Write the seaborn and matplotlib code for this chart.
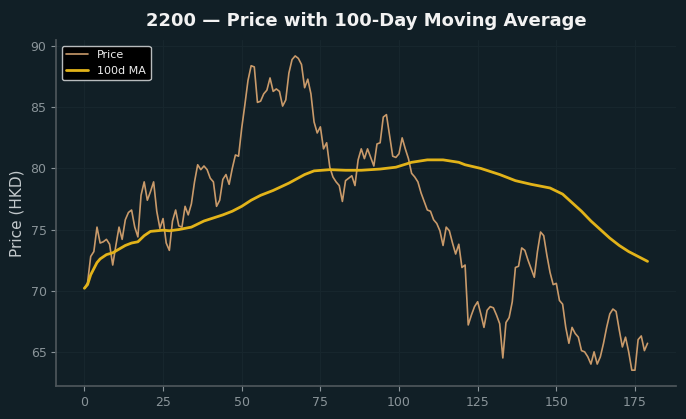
import matplotlib
matplotlib.use("Agg")
import matplotlib.pyplot as plt
import pandas as pd
import seaborn as sns

# daily closing price (index = trading day)
price = [
    70.2, 70.65, 72.8, 73.2, 75.2, 73.9, 74.0, 74.2, 73.8, 72.1,
    73.7, 75.2, 74.2, 75.8, 76.4, 76.6, 75.2, 74.4, 77.8, 78.9,
    77.4, 78.1, 78.9, 76.5, 75.1, 75.9, 73.9, 73.3, 75.7, 76.6,
    75.3, 75.2, 76.9, 76.2, 77.1, 78.9, 80.3, 79.9, 80.2, 79.9,
    79.2, 78.9, 76.9, 77.4, 79.1, 79.5, 78.7, 80.0, 81.1, 81.0,
    83.3, 85.2, 87.2, 88.4, 88.3, 85.4, 85.5, 86.1, 86.4, 87.4,
    86.3, 86.5, 86.3, 85.1, 85.6, 87.8, 88.9, 89.2, 89.0, 88.5,
    86.6, 87.3, 86.1, 83.8, 82.9, 83.4, 81.6, 82.1, 80.1, 79.3,
    78.9, 78.6, 77.3, 79.0, 79.2, 79.4, 78.6, 80.7, 81.6, 80.8,
    81.6, 80.9, 80.2, 82.0, 82.1, 84.2, 84.4, 82.7, 81.0, 80.9,
    81.2, 82.5, 81.6, 80.8, 79.6, 79.3, 78.9, 78.0, 77.3, 76.6,
    76.5, 75.8, 75.5, 74.9, 73.7, 75.2, 74.9, 73.9, 73.0, 73.8,
    71.9, 72.1, 67.2, 68.0, 68.7, 69.1, 68.1, 67.0, 68.4, 68.7,
    68.6, 68.0, 67.3, 64.5, 67.4, 67.8, 69.1, 71.9, 72.0, 73.5,
    73.3, 72.5, 71.8, 71.1, 73.2, 74.8, 74.5, 72.9, 71.5, 70.5,
    70.6, 69.2, 68.9, 67.0, 65.7, 67.0, 66.5, 66.2, 65.1, 65.0,
    64.6, 64.0, 65.0, 64.0, 64.6, 65.7, 67.0, 68.1, 68.5, 68.3,
    66.8, 65.4, 66.2, 65.0, 63.5, 63.5, 66.0, 66.3, 65.1, 65.7,
]

# 100-day moving average, read at selected days
ma_day = [0, 1, 2, 3, 4, 5, 7, 9, 11, 13, 15, 17, 19, 21, 23, 25, 27, 30,
          34, 38, 41, 44, 47, 50, 53, 56, 60, 65, 70, 73, 78, 83, 88, 94,
          99, 104, 109, 114, 119, 121, 126, 132, 137, 142, 148, 152, 155,
          158, 161, 164, 167, 170, 173, 176, 179]
ma_value = [70.2, 70.5, 71.3, 71.8, 72.3, 72.6, 72.95, 73.1, 73.4, 73.7,
            73.9, 74.0, 74.5, 74.85, 74.9, 74.95, 74.9, 75.0,
            75.2, 75.7, 75.95, 76.2, 76.5, 76.9, 77.4, 77.8, 78.2, 78.8,
            79.5, 79.8, 79.9, 79.85, 79.85, 79.95,
            80.1, 80.5, 80.7, 80.7, 80.5, 80.3, 80.0, 79.5, 79.0, 78.7,
            78.4, 77.9, 77.2,
            76.5, 75.7, 75.0, 74.3, 73.7, 73.2, 72.8, 72.4]

price_df = pd.DataFrame({"day": range(len(price)), "price": price})
ma_df = pd.DataFrame({"day": ma_day, "ma": ma_value})

bg = "#111f26"
sns.set_theme(style="darkgrid", rc={
    "figure.facecolor": bg,
    "axes.facecolor": bg,
    "axes.edgecolor": "#4d565b",
    "grid.color": "#18272e",
    "grid.linewidth": 0.7,
    "xtick.color": "#8a9499",
    "ytick.color": "#8a9499",
    "xtick.bottom": True,
    "ytick.left": True,
    "text.color": "#f0f0f0",
    "axes.labelcolor": "#c3c9cc",
})

fig, ax = plt.subplots(figsize=(6.86, 4.19), dpi=100)
fig.subplots_adjust(left=0.082, right=0.985, bottom=0.079, top=0.904)

sns.lineplot(data=price_df, x="day", y="price", ax=ax, color="#c99a6a",
             linewidth=1.2, label="Price")
sns.lineplot(data=ma_df, x="day", y="ma", ax=ax, color="#e2b319",
             linewidth=2.0, label="100d MA")

ax.spines["top"].set_visible(False)
ax.spines["right"].set_visible(False)
ax.tick_params(labelsize=9, length=3.5, width=0.8)

# labels
ax.set_xlabel("")
ax.set_ylabel("Price (HKD)", fontsize=11)
ax.set_title("2200 \u2014 Price with 100-Day Moving Average", fontsize=13,
             fontweight="bold", color="#f2f2f2", pad=10)

leg = ax.legend(loc="upper left", fontsize=8, facecolor="#000000",
                edgecolor="#b8bcbe", framealpha=1.0)
for t in leg.get_texts():
    t.set_color("#eeeeee")

fig.savefig("out.png", dpi=100, facecolor=bg)
